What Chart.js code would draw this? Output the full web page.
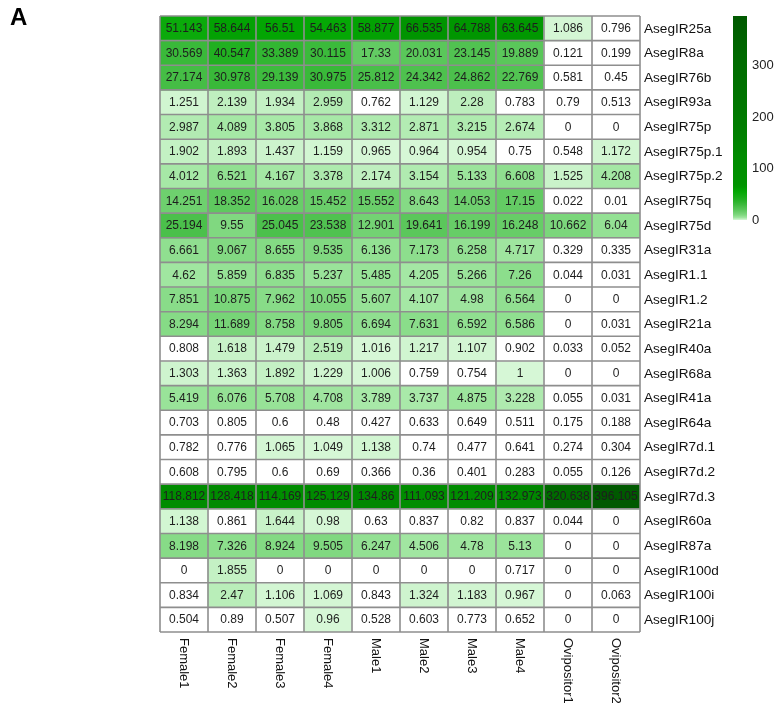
<!DOCTYPE html>
<html>
<head>
<meta charset="utf-8">
<script src="https://cdn.jsdelivr.net/npm/chart.js@4/dist/chart.umd.min.js"></script>
<style>
  html, body { margin: 0; padding: 0; background: #ffffff; }
  #wrap { position: relative; width: 776px; height: 707px; }
  #heat { position: absolute; left: 0; top: 0; }
  #scale { position: absolute; left: 726px; top: 0; }
</style>
</head>
<body>
<div id="wrap">
  <canvas id="heat" width="776" height="707"></canvas>
  <canvas id="scale" width="50" height="240"></canvas>
</div>
<script>
// Samples (columns of the heatmap)
const samples = ['Female1', 'Female2', 'Female3', 'Female4', 'Male1', 'Male2', 'Male3', 'Male4', 'Ovipositor1', 'Ovipositor2'];

// Receptor genes (rows, top to bottom)
const genes = ['AsegIR25a', 'AsegIR8a', 'AsegIR76b', 'AsegIR93a', 'AsegIR75p', 'AsegIR75p.1', 'AsegIR75p.2',
  'AsegIR75q', 'AsegIR75d', 'AsegIR31a', 'AsegIR1.1', 'AsegIR1.2', 'AsegIR21a', 'AsegIR40a', 'AsegIR68a',
  'AsegIR41a', 'AsegIR64a', 'AsegIR7d.1', 'AsegIR7d.2', 'AsegIR7d.3', 'AsegIR60a', 'AsegIR87a',
  'AsegIR100d', 'AsegIR100i', 'AsegIR100j'];

// Expression values per sample, in gene order
const female1 = [51.143, 30.569, 27.174, 1.251, 2.987, 1.902, 4.012, 14.251, 25.194, 6.661, 4.62, 7.851, 8.294, 0.808, 1.303, 5.419, 0.703, 0.782, 0.608, 118.812, 1.138, 8.198, 0, 0.834, 0.504];
const female2 = [58.644, 40.547, 30.978, 2.139, 4.089, 1.893, 6.521, 18.352, 9.55, 9.067, 5.859, 10.875, 11.689, 1.618, 1.363, 6.076, 0.805, 0.776, 0.795, 128.418, 0.861, 7.326, 1.855, 2.47, 0.89];
const female3 = [56.51, 33.389, 29.139, 1.934, 3.805, 1.437, 4.167, 16.028, 25.045, 8.655, 6.835, 7.962, 8.758, 1.479, 1.892, 5.708, 0.6, 1.065, 0.6, 114.169, 1.644, 8.924, 0, 1.106, 0.507];
const female4 = [54.463, 30.115, 30.975, 2.959, 3.868, 1.159, 3.378, 15.452, 23.538, 9.535, 5.237, 10.055, 9.805, 2.519, 1.229, 4.708, 0.48, 1.049, 0.69, 125.129, 0.98, 9.505, 0, 1.069, 0.96];
const male1 = [58.877, 17.33, 25.812, 0.762, 3.312, 0.965, 2.174, 15.552, 12.901, 6.136, 5.485, 5.607, 6.694, 1.016, 1.006, 3.789, 0.427, 1.138, 0.366, 134.86, 0.63, 6.247, 0, 0.843, 0.528];
const male2 = [66.535, 20.031, 24.342, 1.129, 2.871, 0.964, 3.154, 8.643, 19.641, 7.173, 4.205, 4.107, 7.631, 1.217, 0.759, 3.737, 0.633, 0.74, 0.36, 111.093, 0.837, 4.506, 0, 1.324, 0.603];
const male3 = [64.788, 23.145, 24.862, 2.28, 3.215, 0.954, 5.133, 14.053, 16.199, 6.258, 5.266, 4.98, 6.592, 1.107, 0.754, 4.875, 0.649, 0.477, 0.401, 121.209, 0.82, 4.78, 0, 1.183, 0.773];
const male4 = [63.645, 19.889, 22.769, 0.783, 2.674, 0.75, 6.608, 17.15, 16.248, 4.717, 7.26, 6.564, 6.586, 0.902, 1, 3.228, 0.511, 0.641, 0.283, 132.973, 0.837, 5.13, 0.717, 0.967, 0.652];
const ovipositor1 = [1.086, 0.121, 0.581, 0.79, 0, 0.548, 1.525, 0.022, 10.662, 0.329, 0.044, 0, 0, 0.033, 0, 0.055, 0.175, 0.274, 0.055, 320.638, 0.044, 0, 0, 0, 0];
const ovipositor2 = [0.796, 0.199, 0.45, 0.513, 0, 1.172, 4.208, 0.01, 6.04, 0.335, 0.031, 0, 0.031, 0.052, 0, 0.031, 0.188, 0.304, 0.126, 396.105, 0, 0, 0, 0.063, 0];

// Colour-bar tick labels
const scaleTicks = [0, 100, 200, 300];

const sampleValues = [female1, female2, female3, female4, male1, male2, male3, male4, ovipositor1, ovipositor2];
const maxValue = Math.max(...sampleValues.flat());

const FONT = '"Liberation Sans", Arial, sans-serif';

// Green palette: stops on a log axis, white for the lowest expression
const colourStops = [
  [1.0, [214, 247, 214]],
  [2.0, [194, 240, 194]],
  [4.0, [166, 232, 166]],
  [8.0, [136, 220, 136]],
  [15.0, [108, 207, 108]],
  [25.0, [76, 192, 76]],
  [40.0, [34, 176, 34]],
  [55.0, [4, 168, 4]],
  [66.0, [0, 148, 0]],
  [120.0, [0, 140, 0]],
  [320.0, [0, 106, 0]],
  [400.0, [0, 88, 0]]
];
function colourFor(v, forScale) {
  if (!forScale && v < 0.93) return '#ffffff';
  const x = Math.log(Math.max(v, 1));
  if (x <= Math.log(colourStops[0][0])) return rgb(colourStops[0][1]);
  for (let i = 1; i < colourStops.length; i++) {
    const a = colourStops[i - 1], b = colourStops[i];
    const la = Math.log(a[0]), lb = Math.log(b[0]);
    if (x <= lb) {
      const t = (x - la) / (lb - la);
      return rgb(a[1].map((c, k) => c + (b[1][k] - c) * t));
    }
  }
  return rgb(colourStops[colourStops.length - 1][1]);
}
function rgb(c) { return 'rgb(' + c.map(Math.round).join(',') + ')'; }

// One stacked dataset per gene: each cell is one unit tall
const datasets = genes.map((gene, r) => {
  const vals = sampleValues.map(col => col[r]);
  return {
    label: gene,
    data: samples.map(() => 1),
    cellValues: vals,
    backgroundColor: vals.map(v => colourFor(v, false)),
    borderWidth: 0,
    inflateAmount: 0.5,
    barPercentage: 1,
    categoryPercentage: 1
  };
});

const heatText = {
  id: 'heatText',
  afterDatasetsDraw(chart) {
    const { ctx, chartArea, scales } = chart;
    const xs = scales.x, ys = scales.y;
    ctx.save();

    // cell borders
    ctx.strokeStyle = '#8e8e8e';
    ctx.lineWidth = 1.6;
    ctx.beginPath();
    for (let i = 0; i <= samples.length; i++) {
      const x = xs.getPixelForValue(i - 0.5);
      ctx.moveTo(x, ys.getPixelForValue(0));
      ctx.lineTo(x, ys.getPixelForValue(genes.length));
    }
    for (let r = 0; r <= genes.length; r++) {
      const y = ys.getPixelForValue(r);
      ctx.moveTo(xs.getPixelForValue(-0.5), y);
      ctx.lineTo(xs.getPixelForValue(samples.length - 0.5), y);
    }
    ctx.stroke();

    // cell values
    ctx.fillStyle = '#1e1e1e';
    ctx.font = '12px ' + FONT;
    ctx.textAlign = 'center';
    ctx.textBaseline = 'middle';
    chart.data.datasets.forEach((ds, r) => {
      const meta = chart.getDatasetMeta(r);
      meta.data.forEach((el, c) => {
        ctx.fillText(String(ds.cellValues[c]), el.x, (el.y + el.base) / 2 + 0.5);
      });
    });

    // gene names on the right
    ctx.fillStyle = '#111111';
    ctx.font = '13.6px ' + FONT;
    ctx.textAlign = 'left';
    genes.forEach((g, r) => {
      ctx.fillText(g, chartArea.right + 4, ys.getPixelForValue(r + 0.5) + 0.5);
    });

    // sample names, rotated to read downwards
    ctx.font = '13px ' + FONT;
    samples.forEach((s, c) => {
      ctx.save();
      ctx.translate(xs.getPixelForValue(c), ys.getPixelForValue(genes.length) + 6);
      ctx.rotate(Math.PI / 2);
      ctx.textAlign = 'left';
      ctx.textBaseline = 'middle';
      ctx.fillText(s, 0, 0);
      ctx.restore();
    });

    // panel letter
    ctx.fillStyle = '#000000';
    ctx.font = 'bold 24px ' + FONT;
    ctx.textAlign = 'left';
    ctx.textBaseline = 'alphabetic';
    ctx.fillText('A', 10, 25);
    ctx.restore();
  }
};

new Chart(document.getElementById('heat'), {
  type: 'bar',
  data: { labels: samples, datasets },
  options: {
    responsive: false,
    animation: false,
    layout: { padding: { left: 160, right: 136, top: 16, bottom: 75 } },
    plugins: { legend: { display: false }, tooltip: { enabled: false } },
    scales: {
      x: { type: 'category', stacked: true, display: false, offset: true },
      y: { type: 'linear', stacked: true, reverse: true, min: 0, max: genes.length, display: false }
    }
  },
  plugins: [heatText]
});

// Colour bar
new Chart(document.getElementById('scale'), {
  type: 'bar',
  data: {
    labels: ['range'],
    datasets: [{
      data: [[0, maxValue]],
      borderWidth: 0,
      barPercentage: 1,
      categoryPercentage: 1,
      backgroundColor(context) {
        const chart = context.chart;
        const area = chart.chartArea;
        if (!area) return '#00a000';
        const ys = chart.scales.y;
        const y0 = ys.getPixelForValue(0), y1 = ys.getPixelForValue(maxValue);
        const g = chart.ctx.createLinearGradient(0, y0, 0, y1);
        for (let i = 0; i <= 80; i++) {
          const t = i / 80;
          g.addColorStop(t, colourFor(t * maxValue, true));
        }
        return g;
      }
    }]
  },
  options: {
    responsive: false,
    animation: false,
    layout: { padding: { left: 7, right: 0, top: 16, bottom: 20 } },
    plugins: { legend: { display: false }, tooltip: { enabled: false } },
    scales: {
      x: { display: false },
      y: {
        position: 'right',
        min: 0,
        max: maxValue,
        afterBuildTicks(axis) { axis.ticks = scaleTicks.map(v => ({ value: v })); },
        afterFit(axis) { axis.width = 29; },
        grid: { display: false, drawTicks: false },
        border: { display: false },
        ticks: { color: '#222222', font: { family: FONT, size: 13 }, padding: 5 }
      }
    }
  }
});
</script>
</body>
</html>
